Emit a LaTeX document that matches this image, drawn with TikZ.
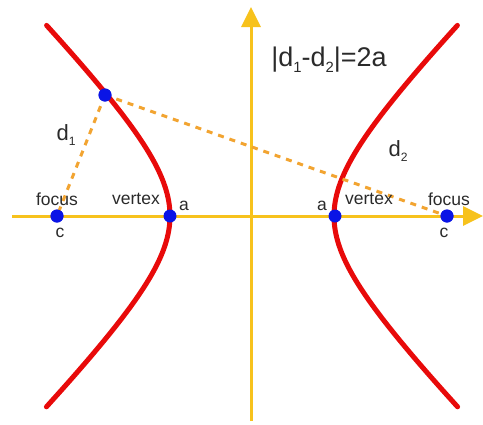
\documentclass[tikz,border=0pt]{standalone}
\usepackage{fontspec}
\usepackage{graphicx}
\setmainfont{Liberation Sans}
\usetikzlibrary{arrows.meta}
\definecolor{axisyel}{HTML}{F7C21C}
\definecolor{dashor}{HTML}{F2A431}
\definecolor{hypred}{HTML}{E80A0A}
\definecolor{dotblue}{HTML}{0A14E6}
\definecolor{txt}{HTML}{2A2A2A}
\newcommand\mysub[1]{\raisebox{-0.45ex}{\scalebox{0.55}{#1}}}
\tikzset{
  axisline/.style={draw=axisyel, line width=3pt, -{Triangle[length=20pt,width=19pt]}},
  branch/.style={draw=hypred, line width=5pt, line cap=round},
  distline/.style={draw=dashor, line width=3pt, dash pattern=on 6pt off 6pt},
  dot/.style={circle, fill=dotblue, inner sep=0pt, minimum size=13pt},
  lbl/.style={text=txt, inner sep=0pt, font=\fontsize{17.5}{20}\selectfont},
  dlbl/.style={text=txt, inner sep=0pt, font=\fontsize{22}{25}\selectfont},
  eqlbl/.style={text=txt, inner sep=0pt, font=\fontsize{27}{30}\selectfont},
}
\begin{document}
\begin{tikzpicture}[x=1pt,y=-1pt]
\useasboundingbox (0,0) rectangle (483,424);
% axes
\coordinate (xs) at (12,216);
\coordinate (xe) at (483,216);
\coordinate (ys) at (251,421);
\coordinate (ye) at (251,7);
\draw[axisline] (xs) -- (xe);
\draw[axisline] (ys) -- (ye);
% hyperbola branches
\draw[branch] plot[domain=-1.57:1.57, samples=80, smooth] ({252-41*(exp(\x)+exp(-\x))}, {216-41.5*(exp(\x)-exp(-\x))});
\draw[branch] plot[domain=-1.57:1.57, samples=80, smooth] ({252+41*(exp(\x)+exp(-\x))}, {216-41.5*(exp(\x)-exp(-\x))});
% points
\node[dot] (F1) at (57,216) {};
\node[dot] (F2) at (447,216) {};
\node[dot] (V1) at (170,216) {};
\node[dot] (V2) at (335,216) {};
\node[dot] (P) at (105,95) {};
% distances
\draw[distline] (P.center) -- (F1.center);
\draw[distline] (P.center) -- (F2.center);
\node[dot] at (P) {};
\node[dot] at (F1) {};
\node[dot] at (F2) {};
% labels
\node[lbl] (lf1) at (57,199) {focus};
\node[lbl] (lv1) at (136,199) {vertex};
\node[lbl] (la1) at (184,206) {a};
\node[lbl] (lc1) at (60,233) {c};
\node[lbl] (la2) at (322,206) {a};
\node[lbl] (lv2) at (369,199) {vertex};
\node[lbl] (lf2) at (449,199) {focus};
\node[lbl] (lc2) at (444,233) {c};
\node[dlbl] (ld1) at (66,135) {d\mysub{1}};
\node[dlbl] (ld2) at (398,151) {d\mysub{2}};
\node[eqlbl] (eq) at (329,60) {|d\mysub{1}-d\mysub{2}|=2a};
\end{tikzpicture}
\end{document}
